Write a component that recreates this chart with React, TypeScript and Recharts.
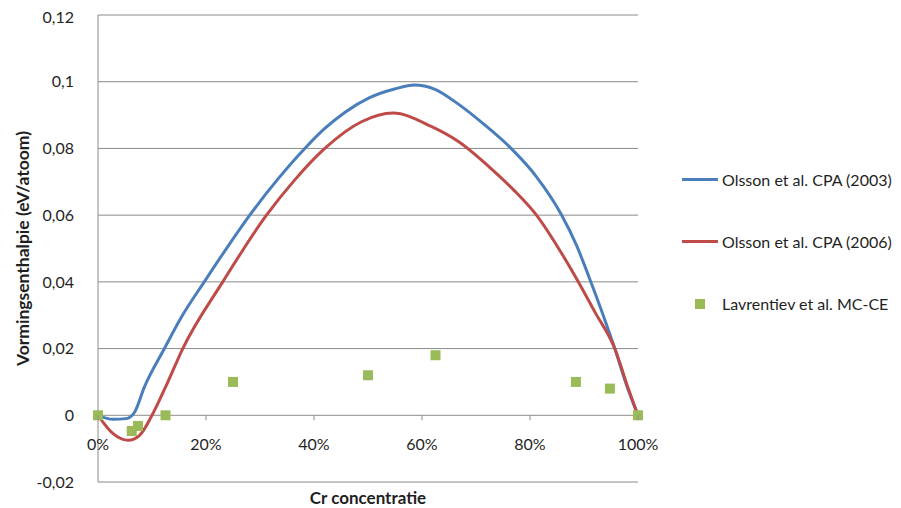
import {
  ComposedChart,
  Line,
  Scatter,
  XAxis,
  YAxis,
  CartesianGrid,
  Legend,
} from "recharts"

// Cr concentration (%) and formation enthalpy (eV/atom)
const cpa2003X = [0, 2.8, 5.2, 6.8, 8.6, 12.3, 15.4, 19.8, 24, 28.1, 33.3, 38.3, 42, 45.7, 50.3, 54.9, 58.6, 62.3, 66.8, 71.5, 76.5, 81.2, 85.8, 88.6, 90.8, 95.7, 98.1, 100]
const cpa2003Y = [0, -0.0012, -0.001, 0.001, 0.0085, 0.02, 0.0293, 0.0403, 0.0505, 0.06, 0.0708, 0.08, 0.086, 0.0908, 0.0952, 0.0978, 0.099, 0.0978, 0.0932, 0.0872, 0.08, 0.0715, 0.0602, 0.051, 0.042, 0.02, 0.008, 0]

const cpa2006X = [0, 2.8, 5.6, 7.7, 10, 12.8, 15.7, 23.1, 31.2, 36.4, 42, 48.8, 54.6, 61.7, 66.8, 73.1, 77, 81.2, 85.5, 88.6, 92, 95.7, 98.1, 100]
const cpa2006Y = [0, -0.0055, -0.0075, -0.006, 0, 0.0095, 0.02, 0.04, 0.06, 0.0705, 0.08, 0.088, 0.0906, 0.0866, 0.082, 0.0735, 0.0675, 0.06, 0.0495, 0.041, 0.031, 0.02, 0.0085, 0]

const mcceX = [0, 6.25, 7.4, 12.5, 25, 50, 62.5, 88.5, 94.8, 100]
const mcceY = [0, -0.0047, -0.0032, 0, 0.01, 0.012, 0.018, 0.01, 0.008, 0]

const xTicks = [0, 20, 40, 60, 80, 100]
const yTicks = [-0.02, 0, 0.02, 0.04, 0.06, 0.08, 0.1, 0.12]

const BLUE = "#4a7ebb"
const RED = "#be4b48"
const GREEN = "#9bbb59"
const GRID = "#8a8a8a"
const TEXT = "#1f1f1f"
const FONT = "Lato, 'Open Sans', sans-serif"

const W = 893
const H = 500
const TOP = 7
const X_AXIS_H = 26
const PLOT_H = H - TOP - X_AXIS_H
const Y_MIN = -0.02
const Y_MAX = 0.12
// distance from the bottom of the plot up to the zero line
const ZERO_UP = (PLOT_H * (0 - Y_MIN)) / (Y_MAX - Y_MIN)

const zip = (xs: number[], ys: number[]) => xs.map((x, i) => ({ x, y: ys[i] }))
const cpa2003 = zip(cpa2003X, cpa2003Y)
const cpa2006 = zip(cpa2006X, cpa2006Y)
const mcce = zip(mcceX, mcceY)

const fmtY = (v: number) => String(Number(v.toFixed(2))).replace(".", ",")

// x ticks sit on the zero line, not on the bottom of the plot
function XTick(props: any) {
  const { x, y, payload } = props
  const y0 = y - ZERO_UP
  return (
    <g>
      <line x1={x} x2={x} y1={y0} y2={y0 + 5} stroke={GRID} />
      <text
        x={x}
        y={y0 + 28}
        textAnchor="middle"
        dominantBaseline="central"
        fill={TEXT}
        fontFamily={FONT}
        fontSize={16}
      >
        {payload.value}%
      </text>
    </g>
  )
}

function YTitle(props: any) {
  const vb = props.viewBox
  const cx = vb.x + 14
  const cy = vb.y + vb.height / 2
  return (
    <text
      x={cx}
      y={cy}
      transform={`rotate(-90 ${cx} ${cy})`}
      textAnchor="middle"
      dominantBaseline="central"
      fill={TEXT}
      fontFamily={FONT}
      fontSize={17.5}
      fontWeight="bold"
    >
      Vormingsenthalpie (eV/atoom)
    </text>
  )
}

function XTitle(props: any) {
  const vb = props.viewBox
  return (
    <text
      x={vb.x + vb.width / 2}
      y={vb.y + 15}
      textAnchor="middle"
      dominantBaseline="central"
      fill={TEXT}
      fontFamily={FONT}
      fontSize={17}
      fontWeight="bold"
    >
      Cr concentratie
    </text>
  )
}

function Square(props: any) {
  const { cx, cy } = props
  return <rect x={cx - 5} y={cy - 5} width={10} height={10} fill={GREEN} />
}

function LegendBox() {
  const items = [
    { name: "Olsson et al. CPA (2003)", color: BLUE, kind: "line" },
    { name: "Olsson et al. CPA (2006)", color: RED, kind: "line" },
    { name: "Lavrentiev et al. MC-CE", color: GREEN, kind: "square" },
  ]
  return (
    <div style={{ fontFamily: FONT, fontSize: 16, color: TEXT }}>
      {items.map((it) => (
        <div key={it.name} style={{ height: 62, position: "relative" }}>
          {it.kind === "line" ? (
            <div style={{ position: "absolute", left: 44, top: 29, width: 36, height: 3, background: it.color }} />
          ) : (
            <div style={{ position: "absolute", left: 57, top: 26, width: 10, height: 10, background: it.color }} />
          )}
          <div style={{ position: "absolute", left: 84, top: 0, height: 62, lineHeight: "62px", whiteSpace: "nowrap" }}>
            {it.name}
          </div>
        </div>
      ))}
    </div>
  )
}

export default function App() {
  return (
    <ComposedChart
      width={W}
      height={H}
      margin={{ top: TOP, right: 263, bottom: 0, left: 0 }}
    >
      <CartesianGrid horizontal vertical={false} stroke={GRID} />
      <XAxis
        type="number"
        dataKey="x"
        domain={[0, 100]}
        ticks={xTicks}
        axisLine={false}
        tickLine={false}
        tickSize={0}
        tickMargin={0}
        height={X_AXIS_H}
        tick={XTick}
        label={<XTitle />}
      />
      <YAxis
        type="number"
        domain={[Y_MIN, Y_MAX]}
        ticks={yTicks}
        width={90}
        tickLine={false}
        axisLine={{ stroke: GRID }}
        tickMargin={18}
        tickFormatter={fmtY}
        tick={{ fontFamily: FONT, fontSize: 16, fill: TEXT }}
        label={<YTitle />}
      />
      <Legend
        layout="vertical"
        align="center"
        verticalAlign="middle"
        wrapperStyle={{ left: 630, top: 141, width: 263 }}
        content={() => <LegendBox />}
      />
      <Line
        data={cpa2003}
        dataKey="y"
        name="Olsson et al. CPA (2003)"
        type="monotone"
        stroke={BLUE}
        strokeWidth={3}
        dot={false}
        activeDot={false}
        isAnimationActive={false}
      />
      <Line
        data={cpa2006}
        dataKey="y"
        name="Olsson et al. CPA (2006)"
        type="monotone"
        stroke={RED}
        strokeWidth={3}
        dot={false}
        activeDot={false}
        isAnimationActive={false}
      />
      <Scatter
        data={mcce}
        dataKey="y"
        name="Lavrentiev et al. MC-CE"
        fill={GREEN}
        shape={Square}
        isAnimationActive={false}
      />
    </ComposedChart>
  )
}
